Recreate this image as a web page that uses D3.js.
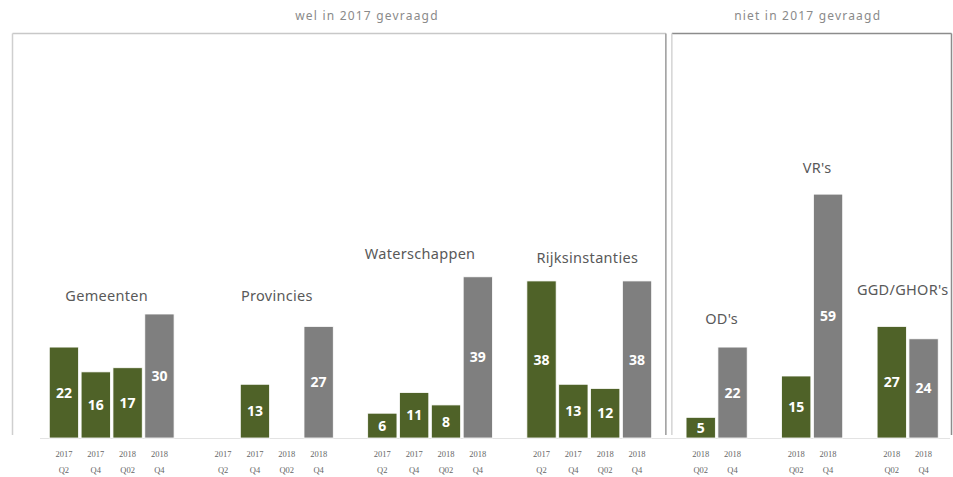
<!DOCTYPE html>
<html>
<head>
<meta charset="utf-8">
<script src="https://cdn.jsdelivr.net/npm/d3@7"></script>
<style>
  body { margin: 0; background: #fff; }
  svg { display: block; font-family: "Noto Sans", sans-serif; }
</style>
</head>
<body>
<div id="chart"></div>
<script>
// categories
var groups = ["Gemeenten", "Provincies", "Waterschappen", "Rijksinstanties", "OD's", "VR's", "GGD/GHOR's"];
var periodsWel = ["2017|Q2", "2017|Q4", "2018|Q02", "2018|Q4"];
var periodsNiet = ["2018|Q02", "2018|Q4"];
var sections = ["wel in 2017 gevraagd", "niet in 2017 gevraagd"];

// values per group (null = no bar)
var gemeenten = [22, 16, 17, 30];
var provincies = [null, 13, null, 27];
var waterschappen = [6, 11, 8, 39];
var rijksinstanties = [38, 13, 12, 38];
var ods = [5, 22];
var vrs = [15, 59];
var ggd = [27, 24];

// layout of the group titles (px above the highest bar, px shift)
var titleLift = [18, 30, 23, 23, 28, 26, 36];
var titleShift = [-5, 6, -10, -2, 5, 5, -5];

var width = 953, height = 477;
var green = "#4f6228", grey = "#7f7f7f";

var values = [gemeenten, provincies, waterschappen, rijksinstanties, ods, vrs, ggd];

// one slot per bar, plus an empty slot between groups
var slots = [], bars = [];
groups.forEach(function(g, i) {
  var periods = i < 4 ? periodsWel : periodsNiet;
  periods.forEach(function(p, j) {
    var key = g + "|" + p;
    slots.push(key);
    bars.push({group: g, gi: i, period: p, key: key, value: values[i][j]});
  });
  if (i < groups.length - 1) slots.push("gap" + i);
});

var svg = d3.select("#chart").append("svg")
  .attr("width", width)
  .attr("height", height);

var x = d3.scaleBand()
  .domain(slots)
  .range([48, 939.5])
  .paddingInner(0.08)
  .paddingOuter(0.04);

var y = d3.scaleLinear()
  .domain([0, 60])
  .range([438, 190]);

// section boxes
var split = x("gap3") + x.bandwidth() / 2;
var boxTop = 33.5, boxBottom = 435;
var boxes = [
  {x0: 12.5, x1: split - 3, light: "#cfcfcf", dark: "#9a9a9a", top: "#c8c8c8"},
  {x0: split + 3, x1: 951.5, light: "#d4d4d4", dark: "#8c8c8c", top: "#8c8c8c"}
];
boxes.forEach(function(b, i) {
  svg.append("line").attr("x1", b.x0).attr("x2", b.x1).attr("y1", boxTop).attr("y2", boxTop)
    .attr("stroke", b.top).attr("stroke-width", 1.5);
  svg.append("line").attr("x1", b.x0).attr("x2", b.x0).attr("y1", boxTop).attr("y2", boxBottom)
    .attr("stroke", b.light).attr("stroke-width", 1.5);
  svg.append("line").attr("x1", b.x1).attr("x2", b.x1).attr("y1", boxTop).attr("y2", boxBottom)
    .attr("stroke", b.dark).attr("stroke-width", 1.5);
});

svg.selectAll("text.section")
  .data(sections)
  .enter().append("text")
  .attr("class", "section")
  .attr("x", function(d, i) { return i == 0 ? 367 : (boxes[1].x0 + boxes[1].x1) / 2 - 4; })
  .attr("y", 20)
  .attr("text-anchor", "middle")
  .attr("fill", "#8a8a8a")
  .style("font-size", "12px")
  .style("letter-spacing", "1.2px")
  .text(function(d) { return d; });

// baseline
svg.append("line")
  .attr("x1", 40).attr("x2", 950)
  .attr("y1", y(0) + 0.5).attr("y2", y(0) + 0.5)
  .attr("stroke", "#e3e3e3");

var drawn = bars.filter(function(d) { return d.value != null; });

svg.selectAll("rect.bar")
  .data(drawn)
  .enter().append("rect")
  .attr("class", "bar")
  .attr("x", function(d) { return x(d.key); })
  .attr("y", function(d) { return y(d.value); })
  .attr("width", x.bandwidth())
  .attr("height", function(d) { return y(0) - y(d.value); })
  .attr("fill", function(d) { return d.period == "2018|Q4" ? grey : green; })
  .attr("stroke", "#fff")
  .attr("stroke-width", 0.8);

svg.selectAll("text.val")
  .data(drawn)
  .enter().append("text")
  .attr("class", "val")
  .attr("x", function(d) { return x(d.key) + x.bandwidth() / 2; })
  .attr("y", function(d) { return (y(d.value) + y(0)) / 2; })
  .attr("dy", "0.36em")
  .attr("text-anchor", "middle")
  .attr("fill", "#fff")
  .style("font-size", "14px")
  .style("font-weight", "bold")
  .text(function(d) { return d.value; });

// period labels, two lines each
var ticks = svg.selectAll("text.tick")
  .data(bars)
  .enter().append("text")
  .attr("class", "tick")
  .attr("text-anchor", "middle")
  .attr("fill", "#666")
  .style("font-size", "8.5px")
  .style("font-family", "'Liberation Serif', serif");
ticks.append("tspan")
  .attr("x", function(d) { return x(d.key) + x.bandwidth() / 2; })
  .attr("y", 457)
  .text(function(d) { return d.period.split("|")[0]; });
ticks.append("tspan")
  .attr("x", function(d) { return x(d.key) + x.bandwidth() / 2; })
  .attr("y", 473)
  .text(function(d) { return d.period.split("|")[1]; });

// group titles
svg.selectAll("text.group")
  .data(groups)
  .enter().append("text")
  .attr("class", "group")
  .attr("x", function(g, i) {
    var keys = bars.filter(function(d) { return d.gi == i; });
    var first = x(keys[0].key), last = x(keys[keys.length - 1].key) + x.bandwidth();
    return (first + last) / 2 + titleShift[i];
  })
  .attr("y", function(g, i) {
    return y(d3.max(values[i])) - titleLift[i];
  })
  .attr("dy", "0.35em")
  .attr("text-anchor", "middle")
  .attr("fill", "#595959")
  .style("font-size", "14.5px")
  .style("letter-spacing", "0.3px")
  .text(function(d) { return d; });
</script>
</body>
</html>
